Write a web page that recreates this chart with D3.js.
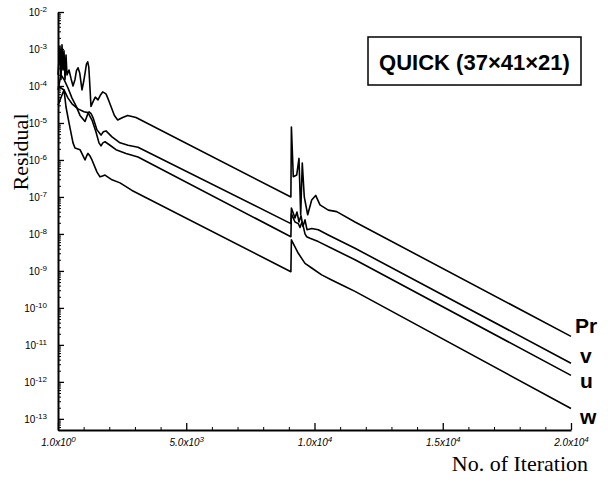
<!DOCTYPE html>
<html>
<head>
<meta charset="utf-8">
<script src="https://cdn.jsdelivr.net/npm/d3@7"></script>
<style>
  body { margin: 0; background: #fff; }
  svg { display: block; }
</style>
</head>
<body>
<svg id="chart" width="608" height="486"></svg>
<script>
// residual history, [iteration, residual]
const prData = [
  [1, 2.0e-4], [79, 1.2e-3], [118, 1.5e-4], [157, 1.3e-3], [196, 2.7e-4], [235, 9.0e-4], [274, 1.5e-4],
  [313, 6.9e-4], [352, 2.0e-4], [430, 2.7e-4], [508, 1.6e-4], [586, 1.0e-4], [664, 1.5e-4], [720, 2.6e-4],
  [781, 3.1e-4], [850, 2.2e-4], [937, 7.8e-5], [1000, 1.3e-4], [1054, 2.2e-4], [1110, 3.9e-4],
  [1159, 4.5e-4], [1200, 3.3e-4], [1230, 1.5e-4], [1287, 2.8e-5], [1377, 3.9e-5],
  [1455, 5.0e-5], [1560, 4.2e-5], [1650, 5.6e-5], [1743, 6.9e-5], [1872, 6.1e-5], [1970, 4.2e-5],
  [2067, 2.8e-5], [2200, 1.6e-5], [2328, 1.2e-5], [2523, 1.4e-5], [2718, 1.6e-5], [3042, 1.4e-5], [9080, 1.0e-7],
  [9100, 7.8e-6], [9174, 3.5e-7], [9306, 3.9e-7], [9396, 1.1e-6], [9462, 3.3e-8], [9524, 8.3e-7],
  [9602, 1.0e-7], [9735, 3.3e-8], [9891, 8.3e-8], [10047, 1.1e-7], [10214, 6.1e-8], [10537, 4.4e-8],
  [10865, 4.0e-8], [11579, 2.1e-8], [20000, 1.7e-11]
];
const vData = [
  [1, 7.8e-5], [118, 2.0e-4], [235, 1.5e-4], [391, 8.8e-5], [547, 4.7e-5], [703, 2.9e-5], [859, 1.6e-5],
  [1054, 1.1e-5], [1140, 1.6e-5], [1210, 2.0e-5], [1290, 1.8e-5], [1365, 1.4e-5], [1521, 6.5e-6],
  [1677, 4.7e-6], [1770, 5.8e-6], [1872, 6.1e-6], [2106, 4.2e-6], [2418, 2.9e-6], [2730, 2.5e-6],
  [3120, 2.2e-6], [9080, 1.9e-8],
  [9100, 5.0e-8], [9240, 2.7e-8], [9318, 3.9e-8], [9396, 2.1e-8], [9474, 3.1e-8], [9552, 1.6e-8],
  [9630, 2.4e-8], [9708, 1.3e-8], [9891, 1.4e-8], [10148, 1.3e-8], [10537, 9.4e-9], [11579, 4.1e-9],
  [20000, 3.2e-12]
];
const uData = [
  [1, 1.0e-4], [235, 7.8e-5], [391, 4.7e-5], [547, 3.3e-5], [781, 2.4e-5], [1015, 2.0e-5], [1170, 1.9e-5],
  [1326, 1.2e-5], [1482, 5.7e-6], [1599, 2.9e-6], [1677, 2.4e-6], [1750, 2.9e-6], [1833, 3.1e-6],
  [2028, 2.5e-6], [2262, 1.9e-6], [2652, 1.5e-6], [3120, 1.2e-6], [9080, 8.4e-9],
  [9100, 3.5e-8], [9240, 2.1e-8], [9369, 1.9e-8], [9435, 1.5e-8], [9513, 2.1e-8], [9563, 1.6e-8],
  [9630, 1.0e-8], [9696, 8.4e-9], [9825, 7.6e-9], [10148, 6.2e-9], [10670, 4.1e-9], [11579, 2.0e-9],
  [20000, 1.5e-12]
];
const wData = [
  [1, 3.0e-5], [157, 5.7e-5], [235, 7.8e-5], [313, 2.7e-5], [430, 1.0e-5], [586, 2.9e-6], [664, 2.1e-6],
  [859, 1.9e-6], [1054, 1.0e-6], [1120, 1.3e-6], [1170, 1.5e-6], [1240, 1.3e-6], [1326, 1.0e-6],
  [1521, 4.7e-7], [1638, 3.5e-7], [1740, 3.7e-7], [1833, 3.9e-7], [2106, 2.9e-7], [2418, 2.4e-7],
  [2886, 1.5e-7], [9080, 9.5e-10],
  [9100, 6.9e-9], [9369, 3.0e-9], [9630, 1.6e-9], [9891, 1.2e-9], [10280, 7.8e-10], [10670, 5.7e-10],
  [11189, 3.8e-10], [11579, 2.8e-10], [20000, 1.9e-13]
];
const seriesNames = ["Pr", "v", "u", "w"];

const xTicks = [1, 5000, 10000, 15000, 20000];
const xTickMant = ["1.0", "5.0", "1.0", "1.5", "2.0"];
const xTickExp = ["0", "3", "4", "4", "4"];
const xMinorTicks = d3.range(1000, 20000, 1000).filter(v => v % 5000 !== 0);
const yTickExps = [-2, -3, -4, -5, -6, -7, -8, -9, -10, -11, -12, -13];
const legendText = "QUICK (37\u00d741\u00d721)";

const series = [prData, vData, uData, wData].map((values, i) => ({ name: seriesNames[i], values }));

const svg = d3.select("#chart");
const sans = "'Liberation Sans', Arial, sans-serif";
const serif = "'Liberation Serif', 'Times New Roman', serif";

const x = d3.scaleLinear().domain([1, 20000]).range([58, 571]);
const y = d3.scaleLog().domain([5e-14, 1e-2]).range([430, 12]);

// minor ticks
svg.append("g")
  .attr("transform", "translate(0,430)")
  .call(d3.axisBottom(x).tickValues(xMinorTicks).tickSize(-3).tickFormat(""))
  .call(g => g.select(".domain").remove());

let yMinor = [];
for (let e = -14; e <= -3; e++) {
  for (let k = 2; k <= 9; k++) {
    const v = k * Math.pow(10, e);
    if (v >= 5e-14 && v <= 1e-2) yMinor.push(v);
  }
}
svg.append("g")
  .attr("transform", "translate(58,0)")
  .call(d3.axisLeft(y).tickValues(yMinor).tickSize(-3).tickFormat(""))
  .call(g => g.select(".domain").remove());

// x axis
const gx = svg.append("g")
  .attr("transform", "translate(0,430)")
  .attr("font-family", sans)
  .attr("font-size", 12)
  .call(d3.axisBottom(x).tickValues(xTicks).tickSize(-7).tickSizeOuter(0).tickPadding(9));
gx.select(".domain").attr("stroke-width", 2);
gx.selectAll(".tick line").attr("stroke-width", 1.3);
gx.selectAll(".tick text")
  .attr("font-style", "italic")
  .text(null)
  .each(function(d, i) {
    const t = d3.select(this);
    t.append("tspan").text(xTickMant[i] + "x10");
    t.append("tspan").attr("dy", "-0.5em").attr("font-size", 8).text(xTickExp[i]);
  });

// y axis
const gy = svg.append("g")
  .attr("transform", "translate(58,0)")
  .attr("font-family", sans)
  .attr("font-size", 11)
  .call(d3.axisLeft(y).tickValues(yTickExps.map(e => Math.pow(10, e))).tickSize(-6).tickSizeOuter(0).tickPadding(11));
gy.select(".domain").attr("stroke-width", 2);
gy.selectAll(".tick line").attr("stroke-width", 1.3);
gy.selectAll(".tick text")
  .text(null)
  .each(function(d, i) {
    const t = d3.select(this);
    t.append("tspan").text("10");
    t.append("tspan").attr("dy", "-0.5em").attr("font-size", 8).text(yTickExps[i]);
  });

// curves
const line = d3.line()
  .x(d => x(d[0]))
  .y(d => y(d[1]));

svg.append("g")
  .selectAll("path")
  .data(series)
  .join("path")
    .attr("d", d => line(d.values))
    .attr("fill", "none")
    .attr("stroke", "#000")
    .attr("stroke-width", 1.6)
    .attr("stroke-linejoin", "round");

// curve names at the right end
const labelDx = [4, 9, 9, 9];
const labelDy = [-3, 0, 13, 15];
svg.append("g")
  .selectAll("text")
  .data(series)
  .join("text")
    .attr("x", (d, i) => x(20000) + labelDx[i])
    .attr("y", (d, i) => y(d.values[d.values.length - 1][1]) + labelDy[i])
    .attr("font-family", sans)
    .attr("font-weight", "bold")
    .attr("font-size", 21)
    .text(d => d.name);

// legend box
svg.append("rect")
  .attr("x", 368).attr("y", 37)
  .attr("width", 213).attr("height", 48)
  .attr("fill", "none")
  .attr("stroke", "#000")
  .attr("stroke-width", 1.5);
svg.append("text")
  .attr("x", 474.5).attr("y", 70)
  .attr("text-anchor", "middle")
  .attr("font-family", sans)
  .attr("font-weight", "bold")
  .attr("font-size", 22)
  .text(legendText);

// axis titles
svg.append("text")
  .attr("transform", "translate(28,152) rotate(-90)")
  .attr("text-anchor", "middle")
  .attr("font-family", serif)
  .attr("font-size", 22)
  .text("Residual");

svg.append("text")
  .attr("x", 588).attr("y", 471)
  .attr("text-anchor", "end")
  .attr("font-family", serif)
  .attr("font-size", 22)
  .text("No. of Iteration");
</script>
</body>
</html>
